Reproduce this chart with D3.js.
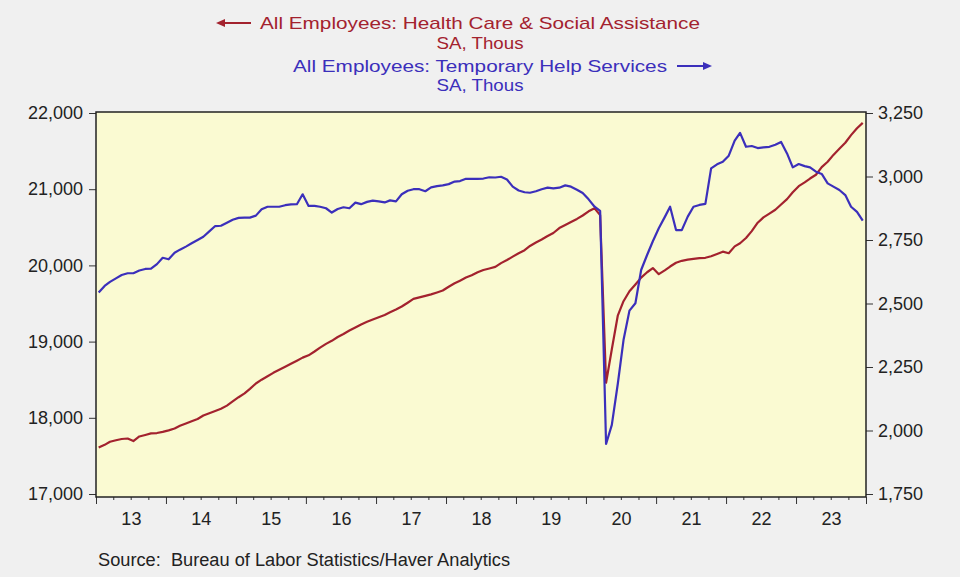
<!DOCTYPE html>
<html>
<head>
<meta charset="utf-8">
<script src="https://cdn.jsdelivr.net/npm/d3@7"></script>
<style>
  body { margin: 0; background: #f0f0f0; }
  text { font-family: "Liberation Sans", Arial, sans-serif; }
</style>
</head>
<body>
<div id="chart"></div>
<script>
// monthly values, Jan 2013 .. Dec 2023 (thousands, SA)
const healthCare = [
    17610, 17645, 17685, 17705, 17722, 17728, 17695, 17755, 17775, 17795, 17800, 17815, // 2013
    17835, 17860, 17895, 17925, 17955, 17985, 18030, 18060, 18090, 18120, 18160, 18215, // 2014
    18270, 18320, 18380, 18450, 18500, 18545, 18590, 18630, 18670, 18710, 18750, 18790, // 2015
    18820, 18870, 18920, 18970, 19010, 19060, 19100, 19145, 19185, 19225, 19260, 19290, // 2016
    19320, 19350, 19385, 19420, 19460, 19510, 19560, 19580, 19600, 19620, 19645, 19670, // 2017
    19720, 19765, 19800, 19840, 19870, 19910, 19940, 19960, 19980, 20030, 20070, 20115, // 2018
    20160, 20200, 20255, 20300, 20340, 20385, 20425, 20490, 20530, 20570, 20610, 20655, // 2019
    20710, 20750, 20660, 18460, 18900, 19340, 19530, 19660, 19750, 19840, 19910, 19965, // 2020
    19885, 19935, 19985, 20035, 20060, 20075, 20085, 20095, 20100, 20120, 20150, 20180, // 2021
    20160, 20250, 20290, 20360, 20450, 20560, 20630, 20680, 20730, 20800, 20870, 20960, // 2022
    21040, 21090, 21140, 21190, 21290, 21360, 21450, 21530, 21610, 21710, 21800, 21870  // 2023
];
const tempHelp = [
    2543, 2569, 2585, 2599, 2612, 2619, 2619, 2630, 2636, 2637, 2655, 2680, // 2013
    2674, 2700, 2712, 2724, 2737, 2750, 2763, 2784, 2805, 2806, 2818, 2830, // 2014
    2837, 2838, 2838, 2846, 2871, 2881, 2881, 2881, 2887, 2890, 2891, 2930, // 2015
    2884, 2884, 2881, 2875, 2858, 2872, 2879, 2875, 2897, 2891, 2900, 2905, // 2016
    2902, 2898, 2906, 2902, 2930, 2944, 2950, 2950, 2942, 2957, 2962, 2965, // 2017
    2970, 2980, 2982, 2991, 2991, 2991, 2992, 2997, 2996, 2999, 2988, 2960, // 2018
    2945, 2938, 2936, 2942, 2950, 2956, 2953, 2956, 2965, 2960, 2948, 2935, // 2019
    2910, 2881, 2865, 1947, 2022, 2183, 2356, 2472, 2501, 2632, 2691, 2745, // 2020
    2796, 2840, 2881, 2789, 2789, 2842, 2881, 2888, 2892, 3032, 3048, 3058, // 2021
    3082, 3141, 3172, 3117, 3120, 3112, 3115, 3117, 3125, 3136, 3091, 3036, // 2022
    3049, 3041, 3036, 3019, 3010, 2973, 2960, 2947, 2927, 2881, 2861, 2826  // 2023
];
const years = [2013, 2014, 2015, 2016, 2017, 2018, 2019, 2020, 2021, 2022, 2023];
const yearLabels = ["13", "14", "15", "16", "17", "18", "19", "20", "21", "22", "23"];
const leftTicks = [17000, 18000, 19000, 20000, 21000, 22000];
const rightTicks = [1750, 2000, 2250, 2500, 2750, 3000, 3250];
const titleLines = [
    "All Employees: Health Care & Social Assistance", "SA, Thous",
    "All Employees: Temporary Help Services", "SA, Thous"
];
const source = "Source:  Bureau of Labor Statistics/Haver Analytics";

const W = 960, H = 577;
const plot = {l: 96, r: 866, t: 112, b: 497};
const red = "#a3222e", blue = "#3b2fbb";

const svg = d3.select("#chart").append("svg")
    .attr("width", W)
    .attr("height", H);

svg.append("rect").attr("width", W).attr("height", H).attr("fill", "#f0f0f0");

// plot background
svg.append("rect")
    .attr("x", plot.l).attr("y", plot.t)
    .attr("width", plot.r - plot.l).attr("height", plot.b - plot.t)
    .attr("fill", "#fafad2");

//scales
const months = d3.timeMonth.range(new Date(2013, 0, 1), new Date(2024, 0, 1));
const x = d3.scaleTime()
    .domain([new Date(2013, 0, 1), new Date(2024, 0, 1)])
    .range([plot.l, plot.r]);
const yLeft = d3.scaleLinear().domain([17000, 22000]).range([494, 113]);
const yRight = d3.scaleLinear().domain([1750, 3250]).range([494, 113]);

// axes
const fmt = d3.format(",");
const left = svg.append("g")
    .attr("transform", `translate(${plot.l},0)`)
    .call(d3.axisLeft(yLeft).tickValues(leftTicks).tickSize(7).tickPadding(6).tickFormat(fmt));
const right = svg.append("g")
    .attr("transform", `translate(${plot.r},0)`)
    .call(d3.axisRight(yRight).tickValues(rightTicks).tickSize(7).tickPadding(5).tickFormat(fmt));

const yearStarts = years.map(y => new Date(y, 0, 1)).concat([new Date(2024, 0, 1)]);
const quarters = d3.timeMonth.every(3).range(new Date(2013, 0, 1), new Date(2024, 0, 1))
    .filter(d => d.getMonth() !== 0);
const bottomMajor = svg.append("g")
    .attr("transform", `translate(0,${plot.b})`)
    .call(d3.axisBottom(x).tickValues(yearStarts).tickSize(7).tickFormat(""));
const bottomMinor = svg.append("g")
    .attr("transform", `translate(0,${plot.b})`)
    .call(d3.axisBottom(x).tickValues(quarters).tickSize(3).tickFormat(""));
const bottomLabels = svg.append("g")
    .attr("transform", `translate(0,${plot.b})`)
    .call(d3.axisBottom(x).tickValues(years.map(y => new Date(y, 6, 2)))
        .tickSize(0).tickPadding(15).tickFormat((d, i) => yearLabels[i]));

[left, right, bottomMajor, bottomMinor, bottomLabels].forEach(g => {
    g.select(".domain").remove();
    g.selectAll("line").attr("stroke", "#333");
    g.selectAll("text").attr("fill", "#222").style("font-size", "18px")
        .style("font-family", '"Liberation Sans", Arial, sans-serif');
});

// lines
const midMonth = months.map(m => d3.timeDay.offset(m, 14));
svg.append("path")
    .datum(healthCare)
    .attr("fill", "none")
    .attr("stroke", red)
    .attr("stroke-width", 2.2)
    .attr("stroke-linejoin", "round")
    .attr("d", d3.line().x((d, i) => x(midMonth[i])).y(d => yLeft(d)));
svg.append("path")
    .datum(tempHelp)
    .attr("fill", "none")
    .attr("stroke", blue)
    .attr("stroke-width", 2.2)
    .attr("stroke-linejoin", "round")
    .attr("d", d3.line().x((d, i) => x(midMonth[i])).y(d => yRight(d)));

// frame
svg.append("rect")
    .attr("x", plot.l).attr("y", plot.t)
    .attr("width", plot.r - plot.l).attr("height", plot.b - plot.t)
    .attr("fill", "none")
    .attr("stroke", "#222")
    .attr("stroke-width", 1.5);

//title, a bit stretched like the original
const baselines = [29, 48.5, 71.5, 91];
const titleColors = [red, red, blue, blue];
const titleWidths = [440, 87, 374, 87];
const titles = titleLines.map((t, i) => svg.append("text")
    .attr("x", W / 2)
    .attr("y", baselines[i])
    .attr("text-anchor", "middle")
    .attr("fill", titleColors[i])
    .attr("textLength", titleWidths[i])
    .attr("lengthAdjust", "spacingAndGlyphs")
    .style("font-size", "17px")
    .text(t));

function arrow(x1, x2, y, color) {
    // head at x2
    const dir = x2 > x1 ? 1 : -1;
    svg.append("line")
        .attr("x1", x1).attr("x2", x2 - dir * 6)
        .attr("y1", y).attr("y2", y)
        .attr("stroke", color).attr("stroke-width", 2);
    svg.append("path")
        .attr("d", `M${x2},${y} L${x2 - dir * 9},${y - 4} L${x2 - dir * 9},${y + 4} Z`)
        .attr("fill", color);
}
arrow(W / 2 - titleWidths[0] / 2 - 9, W / 2 - titleWidths[0] / 2 - 44, 23, red);
arrow(W / 2 + titleWidths[2] / 2 + 10, W / 2 + titleWidths[2] / 2 + 45, 66, blue);

// source (keeps the double space)
svg.append("text")
    .attr("x", 98)
    .attr("y", 566)
    .attr("fill", "#222")
    .attr("textLength", 412)
    .attr("lengthAdjust", "spacingAndGlyphs")
    .style("font-size", "18px")
    .style("white-space", "pre")
    .text(source);
</script>
</body>
</html>
